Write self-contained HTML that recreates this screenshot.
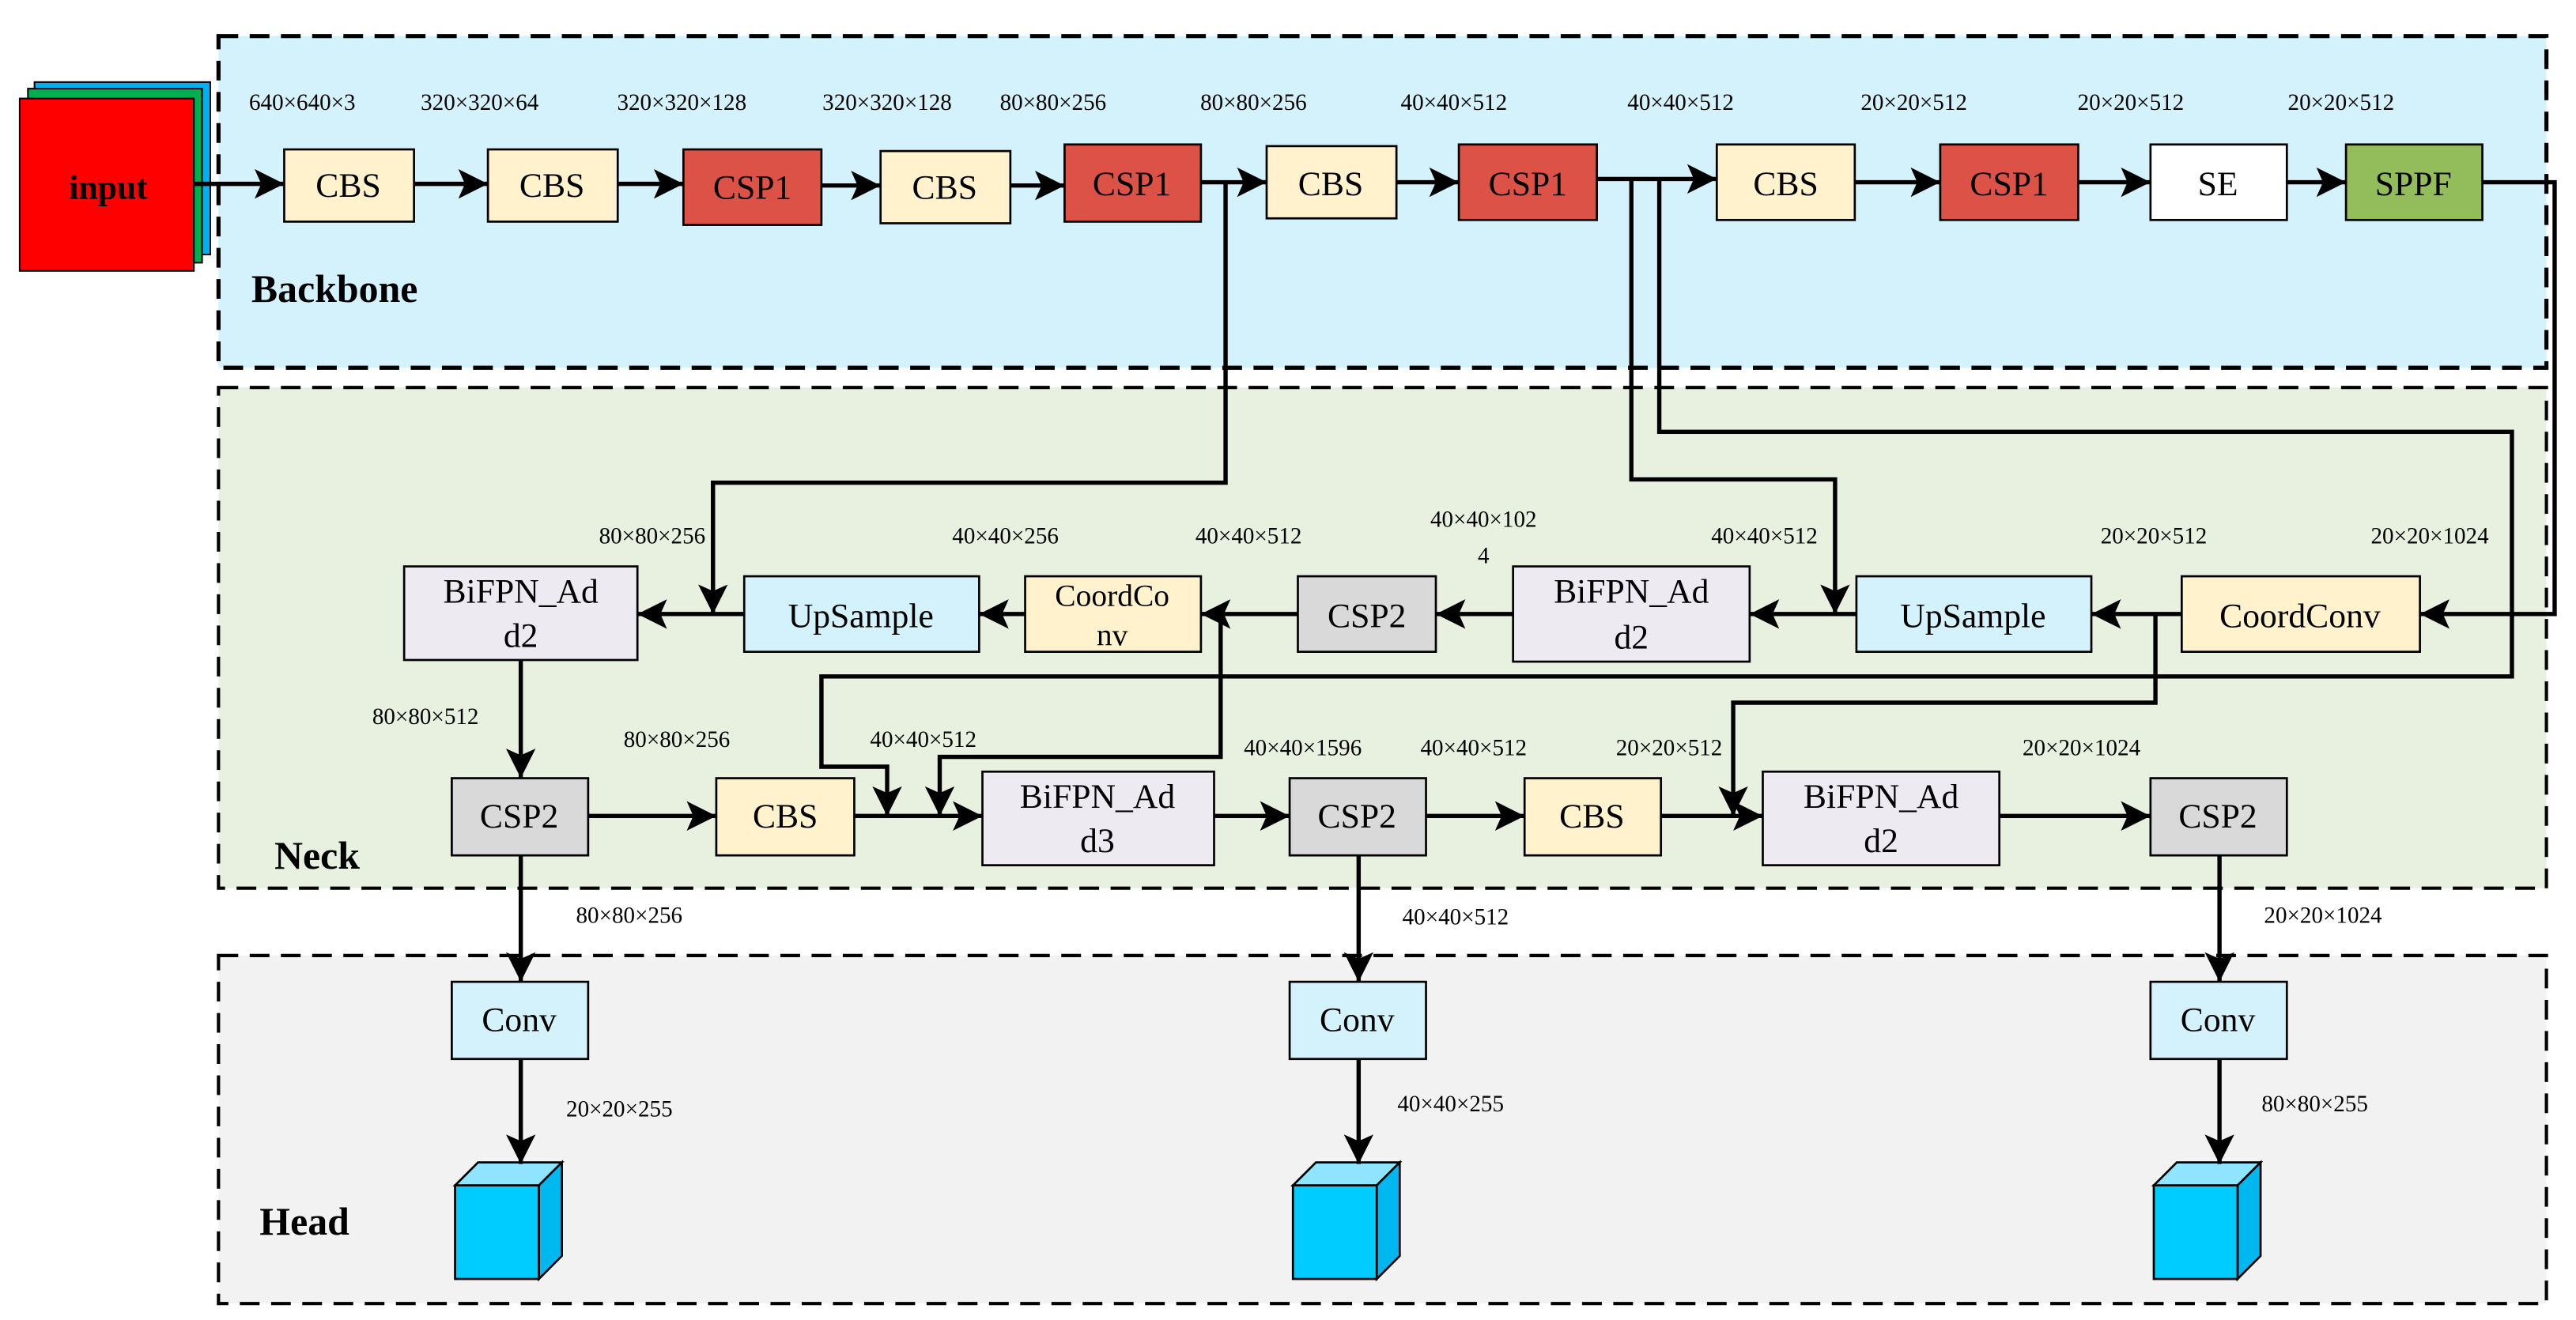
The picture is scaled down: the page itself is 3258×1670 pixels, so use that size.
<!DOCTYPE html>
<html><head><meta charset="utf-8"><style>
html,body{margin:0;padding:0;background:#fff;}
svg{display:block;}
text{font-family:"Liberation Serif",serif;fill:#000;}
.l{font-size:14px;text-anchor:middle;}
.b{font-size:21px;text-anchor:middle;}
.t{font-size:24px;font-weight:bold;}
</style></head><body>
<svg width="3258" height="1670" viewBox="0 0 1568 804" preserveAspectRatio="none" xmlns="http://www.w3.org/2000/svg">
<defs>
<marker id="a" markerUnits="userSpaceOnUse" markerWidth="20" markerHeight="20" refX="18" refY="9" orient="auto">
<path d="M0,0 L18,9 L0,18 L4,9 z" fill="#000"/>
</marker>
</defs>
<!-- panels -->
<rect x="133" y="22" width="1417" height="202" fill="#d4f2fc" stroke="#000" stroke-width="2.5" stroke-dasharray="12,7"/>
<rect x="133" y="236" width="1417" height="305" fill="#e8f0df" stroke="#000" stroke-width="2" stroke-dasharray="12,7"/>
<rect x="133" y="582" width="1417" height="212" fill="#f2f2f2" stroke="#000" stroke-width="2" stroke-dasharray="12,7"/>
<text class="t" x="153" y="184">Backbone</text>
<text class="t" x="167" y="529">Neck</text>
<text class="t" x="158" y="752">Head</text>
<!-- input -->
<rect x="21" y="50" width="107" height="105" fill="#00b0f0" stroke="#000" stroke-width="1"/>
<rect x="17" y="54" width="106" height="106" fill="#00b050" stroke="#000" stroke-width="1"/>
<rect x="12" y="60" width="106" height="105" fill="#ff0000" stroke="#000" stroke-width="1"/>
<text x="66" y="121" style="font-size:21px;font-weight:bold;text-anchor:middle">input</text>
<g stroke="#000" stroke-width="1.3">
<rect x="173" y="91" width="79" height="44" fill="#fff2cc"/>
<rect x="297" y="91" width="79" height="44" fill="#fff2cc"/>
<rect x="416" y="91" width="84" height="46" fill="#dd5246"/>
<rect x="536" y="92" width="79" height="44" fill="#fff2cc"/>
<rect x="648" y="88" width="83" height="47" fill="#dd5246"/>
<rect x="771" y="89" width="79" height="44" fill="#fff2cc"/>
<rect x="888" y="88" width="84" height="46" fill="#dd5246"/>
<rect x="1045" y="88" width="84" height="46" fill="#fff2cc"/>
<rect x="1181" y="88" width="84" height="46" fill="#dd5246"/>
<rect x="1309" y="88" width="83" height="46" fill="#ffffff"/>
<rect x="1428" y="88" width="83" height="46" fill="#92bd5a"/>
<!-- neck row1 -->
<rect x="246" y="345" width="142" height="57" fill="#eeeaf2"/>
<rect x="453" y="351" width="143" height="46" fill="#d4f2fc"/>
<rect x="624" y="351" width="107" height="46" fill="#fff2cc"/>
<rect x="790" y="351" width="84" height="46" fill="#d9d9d9"/>
<rect x="921" y="345" width="144" height="58" fill="#eeeaf2"/>
<rect x="1130" y="351" width="143" height="46" fill="#d4f2fc"/>
<rect x="1328" y="351" width="145" height="46" fill="#fff2cc"/>
<!-- neck row2 -->
<rect x="275" y="474" width="83" height="47" fill="#d9d9d9"/>
<rect x="436" y="474" width="84" height="47" fill="#fff2cc"/>
<rect x="598" y="470" width="141" height="57" fill="#eeeaf2"/>
<rect x="785" y="474" width="83" height="47" fill="#d9d9d9"/>
<rect x="928" y="474" width="83" height="47" fill="#fff2cc"/>
<rect x="1073" y="470" width="144" height="57" fill="#eeeaf2"/>
<rect x="1309" y="474" width="83" height="47" fill="#d9d9d9"/>
<!-- head -->
<rect x="275" y="598" width="83" height="47" fill="#d4f2fc"/>
<rect x="785" y="598" width="83" height="47" fill="#d4f2fc"/>
<rect x="1309" y="598" width="83" height="47" fill="#d4f2fc"/>
</g>
<!-- cubes -->
<g stroke="#000" stroke-width="1.3">
<g id="cube">
<polygon points="277,722 291,708 342,708 328,722" fill="#8fe4ff"/>
<polygon points="328,722 342,708 342,765 328,779" fill="#00b8f0"/>
<rect x="277" y="722" width="51" height="57" fill="#00ccff"/>
</g>
<use href="#cube" x="510"/>
<use href="#cube" x="1034"/>
</g>
<!-- box labels -->
<g class="b">
<text x="212" y="120">CBS</text><text x="336" y="120">CBS</text><text x="458" y="121">CSP1</text>
<text x="575" y="121">CBS</text><text x="689" y="119">CSP1</text><text x="810" y="119">CBS</text>
<text x="930" y="119">CSP1</text><text x="1087" y="119">CBS</text><text x="1223" y="119">CSP1</text>
<text x="1350" y="119">SE</text><text x="1469" y="119">SPPF</text>
<text x="317" y="367">BiFPN_Ad</text><text x="317" y="394">d2</text>
<text x="524" y="382">UpSample</text>
<text x="677" y="369" style="font-size:19px">CoordCo</text><text x="677" y="393" style="font-size:19px">nv</text>
<text x="832" y="382">CSP2</text>
<text x="993" y="367">BiFPN_Ad</text><text x="993" y="395">d2</text>
<text x="1201" y="382">UpSample</text>
<text x="1400" y="382">CoordConv</text>
<text x="316" y="504">CSP2</text><text x="478" y="504">CBS</text>
<text x="668" y="492">BiFPN_Ad</text><text x="668" y="519">d3</text>
<text x="826" y="504">CSP2</text><text x="969" y="504">CBS</text>
<text x="1145" y="492">BiFPN_Ad</text><text x="1145" y="519">d2</text>
<text x="1350" y="504">CSP2</text>
<text x="316" y="628">Conv</text><text x="826" y="628">Conv</text><text x="1350" y="628">Conv</text>
</g>
<!-- dim labels -->
<g class="l">
<text x="184" y="67">640×640×3</text><text x="292" y="67">320×320×64</text><text x="415" y="67">320×320×128</text>
<text x="540" y="67">320×320×128</text><text x="641" y="67">80×80×256</text><text x="763" y="67">80×80×256</text>
<text x="885" y="67">40×40×512</text><text x="1023" y="67">40×40×512</text><text x="1165" y="67">20×20×512</text>
<text x="1297" y="67">20×20×512</text><text x="1425" y="67">20×20×512</text>
<text x="397" y="331">80×80×256</text><text x="612" y="331">40×40×256</text><text x="760" y="331">40×40×512</text>
<text x="903" y="321">40×40×102</text><text x="903" y="343">4</text>
<text x="1074" y="331">40×40×512</text><text x="1311" y="331">20×20×512</text><text x="1479" y="331">20×20×1024</text>
<text x="259" y="441">80×80×512</text><text x="412" y="455">80×80×256</text><text x="562" y="455">40×40×512</text>
<text x="793" y="460">40×40×1596</text><text x="897" y="460">40×40×512</text><text x="1016" y="460">20×20×512</text>
<text x="1267" y="460">20×20×1024</text>
<text x="383" y="562">80×80×256</text><text x="886" y="563">40×40×512</text><text x="1414" y="562">20×20×1024</text>
<text x="377" y="680">20×20×255</text><text x="883" y="677">40×40×255</text><text x="1409" y="677">80×80×255</text>
</g>
<!-- connectors -->
<g stroke="#000" stroke-width="2.6" fill="none">
<line x1="118" y1="112" x2="173" y2="112" marker-end="url(#a)"/>
<line x1="252" y1="112" x2="297" y2="112" marker-end="url(#a)"/>
<line x1="376" y1="112" x2="416" y2="112" marker-end="url(#a)"/>
<line x1="500" y1="113" x2="536" y2="113" marker-end="url(#a)"/>
<line x1="615" y1="113" x2="648" y2="113" marker-end="url(#a)"/>
<line x1="731" y1="111" x2="771" y2="111" marker-end="url(#a)"/>
<line x1="850" y1="111" x2="888" y2="111" marker-end="url(#a)"/>
<line x1="972" y1="109" x2="1045" y2="109" marker-end="url(#a)"/>
<line x1="1129" y1="111" x2="1181" y2="111" marker-end="url(#a)"/>
<line x1="1265" y1="111" x2="1309" y2="111" marker-end="url(#a)"/>
<line x1="1392" y1="111" x2="1428" y2="111" marker-end="url(#a)"/>
<polyline points="1511,111 1555,111 1555,374 1473,374" marker-end="url(#a)"/>
<polyline points="746,112 746,294 434,294 434,374" marker-end="url(#a)"/>
<polyline points="993,109 993,292 1117,292 1117,374" marker-end="url(#a)"/>
<polyline points="1010,109 1010,263 1529,263 1529,412 500,412 500,467 540,467 540,497" marker-end="url(#a)"/>
<!-- row1 -->
<line x1="453" y1="374" x2="388" y2="374" marker-end="url(#a)"/>
<line x1="624" y1="374" x2="596" y2="374" marker-end="url(#a)"/>
<line x1="790" y1="374" x2="731" y2="374" marker-end="url(#a)"/>
<line x1="921" y1="374" x2="874" y2="374" marker-end="url(#a)"/>
<line x1="1130" y1="374" x2="1065" y2="374" marker-end="url(#a)"/>
<line x1="1328" y1="374" x2="1273" y2="374" marker-end="url(#a)"/>
<polyline points="743,374 743,461 572,461 572,497" marker-end="url(#a)"/>
<polyline points="1312,374 1312,428 1055,428 1055,497" marker-end="url(#a)"/>
<line x1="317" y1="402" x2="317" y2="474" marker-end="url(#a)"/>
<!-- row2 -->
<line x1="358" y1="497" x2="436" y2="497" marker-end="url(#a)"/>
<line x1="520" y1="497" x2="598" y2="497" marker-end="url(#a)"/>
<line x1="739" y1="497" x2="785" y2="497" marker-end="url(#a)"/>
<line x1="868" y1="497" x2="928" y2="497" marker-end="url(#a)"/>
<line x1="1011" y1="497" x2="1073" y2="497" marker-end="url(#a)"/>
<line x1="1217" y1="497" x2="1309" y2="497" marker-end="url(#a)"/>
<!-- head -->
<line x1="317" y1="521" x2="317" y2="598" marker-end="url(#a)"/>
<line x1="827" y1="521" x2="827" y2="598" marker-end="url(#a)"/>
<line x1="1351" y1="521" x2="1351" y2="598" marker-end="url(#a)"/>
<line x1="317" y1="645" x2="317" y2="709" marker-end="url(#a)"/>
<line x1="827" y1="645" x2="827" y2="709" marker-end="url(#a)"/>
<line x1="1351" y1="645" x2="1351" y2="709" marker-end="url(#a)"/>
</g>
</svg>
</body></html>
